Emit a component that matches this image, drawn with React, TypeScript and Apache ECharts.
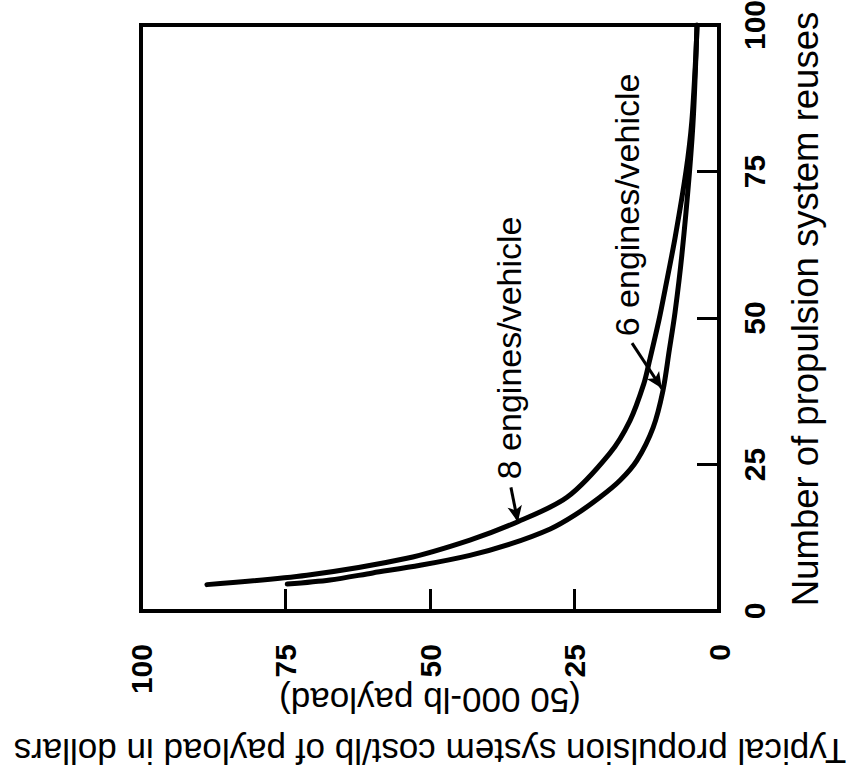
import React, { useEffect, useRef } from "react";
import * as echarts from "echarts";

// Axis ticks
const reuseTicks = [0, 25, 50, 75, 100];
const costTicks = [0, 25, 50, 75, 100];

// 8 engines/vehicle curve: cost ($/lb) vs number of reuses
const eightCost = [88.6, 71.3, 54.0, 43.1, 34.9, 26.3, 18.9, 15.4, 13.0, 12.0, 10.4, 9.3, 7.6, 5.7, 4.7, 4.0, 3.8];
const eightReuses = [4.5, 6.1, 9.0, 12.1, 15.2, 19.4, 26.9, 32.5, 38.8, 42.8, 49.6, 55.0, 63.7, 75.1, 83.6, 95, 100];

// 6 engines/vehicle curve
const sixCost = [74.7, 67.3, 59.9, 51.7, 43.1, 36.2, 29.2, 24.9, 20.6, 17.1, 14.2, 11.4, 9.7, 8.6, 7.6, 6.4, 5.1, 4.4, 3.8];
const sixReuses = [4.6, 5.3, 6.5, 7.8, 9.5, 11.4, 14.0, 16.4, 19.4, 22.3, 25.7, 31.3, 37.6, 44.5, 51.0, 61.0, 75.0, 85.0, 100];

// Annotation labels (data coordinates: cost, reuses)
const labelTexts = ["8 engines/vehicle", "6 engines/vehicle"];
const labelCost = [36.3, 15.9];
const labelReuses = [44.9, 69.3];
// Arrow start / tip (data coordinates)
const arrowFrom = [[36.0, 21.1], [15.05, 45.7]];
const arrowTo = [[34.8, 15.2], [9.9, 38.0]];

const xTitleLine1 = "Typical propulsion system cost/lb of payload in dollars";
const xTitleLine2 = "(50 000-lb payload)";
const yTitle = "Number of propulsion system reuses";

const FONT = "'Liberation Sans', Arial, Helvetica, sans-serif";

export default function App() {
  const ref = useRef<HTMLDivElement>(null);
  useEffect(() => {
    if (!ref.current) return;
    const chart = echarts.init(ref.current, null, { renderer: "svg" });
    const pair = (xs: number[], ys: number[]) => xs.map((x, i) => [x, ys[i]]);
    const arrow = (i: number) => ({
      silent: true,
      symbol: ["none", "arrow"],
      symbolSize: [11, 16],
      label: { show: false },
      lineStyle: { color: "#000", width: 3, type: "solid" },
      data: [[{ coord: arrowFrom[i] }, { coord: arrowTo[i] }]],
    });
    chart.setOption({
      animation: false,
      backgroundColor: "#ffffff",
      grid: {
        left: 141,
        right: 127,
        top: 25,
        bottom: 161,
        show: true,
        borderColor: "#000",
        borderWidth: 4,
        containLabel: false,
        outerBoundsMode: "none",
      },
      xAxis: {
        type: "value",
        min: costTicks[0],
        max: costTicks[costTicks.length - 1],
        interval: 25,
        inverse: true,
        position: "bottom",
        splitLine: { show: false },
        axisLine: { show: true, lineStyle: { color: "#000", width: 4 } },
        axisTick: { show: true, inside: true, length: 22, lineStyle: { color: "#000", width: 3 } },
        axisLabel: {
          rotate: 90,
          margin: 33,
          color: "#000",
          fontSize: 30,
          fontWeight: "bold",
          fontFamily: FONT,
        },
        name: `{a|${xTitleLine1}}\n{b|${xTitleLine2}}`,
        nameLocation: "middle",
        nameRotate: 180,
        nameGap: 54,
        nameMoveOverlap: false,
        nameTextStyle: {
          color: "#000",
          fontSize: 35,
          fontFamily: FONT,
          rich: {
            a: { color: "#000", fontSize: 35, fontFamily: FONT, lineHeight: 32 },
            b: { color: "#000", fontSize: 35, fontFamily: FONT, lineHeight: 70 },
          },
        },
      },
      yAxis: {
        type: "value",
        min: reuseTicks[0],
        max: reuseTicks[reuseTicks.length - 1],
        interval: 25,
        position: "right",
        splitLine: { show: false },
        axisLine: { show: true, lineStyle: { color: "#000", width: 4 } },
        axisTick: { show: true, inside: true, length: 22, lineStyle: { color: "#000", width: 3 } },
        axisLabel: {
          rotate: 90,
          margin: 20,
          color: "#000",
          fontSize: 30,
          fontWeight: "bold",
          fontFamily: FONT,
        },
        name: yTitle,
        nameLocation: "middle",
        nameRotate: 90,
        nameGap: 68,
        nameTextStyle: { color: "#000", fontSize: 36.5, fontFamily: FONT, padding: [0, 0, 0, 18] },
      },
      series: [
        {
          name: "8 engines/vehicle",
          type: "line",
          data: pair(eightCost, eightReuses),
          smooth: 0.3,
          showSymbol: false,
          lineStyle: { color: "#000", width: 5, cap: "round" },
          markLine: arrow(0),
        },
        {
          name: "6 engines/vehicle",
          type: "line",
          data: pair(sixCost, sixReuses),
          smooth: 0.3,
          showSymbol: false,
          lineStyle: { color: "#000", width: 5, cap: "round" },
          markLine: arrow(1),
        },
      ],
    });
    const graphic = labelTexts.map((t, i) => {
      const p = chart.convertToPixel({ gridIndex: 0 }, [labelCost[i], labelReuses[i]]) as number[];
      return {
        type: "text",
        x: p[0],
        y: p[1],
        rotation: Math.PI / 2,
        silent: true,
        style: {
          text: t,
          fill: "#000",
          fontSize: 34,
          fontFamily: FONT,
          align: "center",
          verticalAlign: "middle",
        },
      };
    });
    chart.setOption({ graphic });
    return () => chart.dispose();
  }, []);
  return <div ref={ref} style={{ position: "fixed", left: 0, top: 0, width: 846, height: 772 }} />;
}
